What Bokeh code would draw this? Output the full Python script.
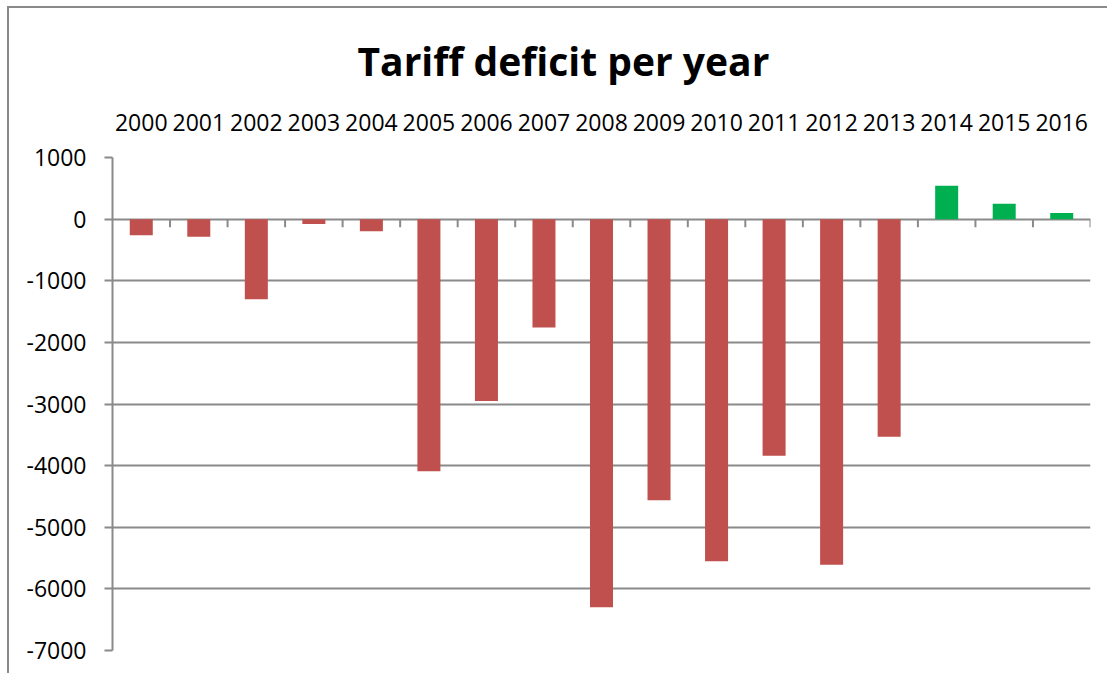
from bokeh.plotting import figure
from bokeh.models import (Range1d, LinearAxis, FixedTicker, ColumnDataSource, Title)
from bokeh.embed import file_html
from bokeh.resources import INLINE

years = ["2000", "2001", "2002", "2003", "2004", "2005", "2006", "2007", "2008",
         "2009", "2010", "2011", "2012", "2013", "2014", "2015", "2016"]
deficit = [-260, -285, -1300, -80, -195, -4090, -2950, -1760, -6300,
           -4560, -5550, -3840, -5610, -3530, 540, 250, 100]
y_ticks = [-7000, -6000, -5000, -4000, -3000, -2000, -1000, 0, 1000]

RED = "#C0504D"
GREEN = "#00B050"
GRAY = "#8a8a8a"
FONT = "Open Sans"

n = len(years)
xs = [i + 0.5 for i in range(n)]
colors = [GREEN if v > 0 else RED for v in deficit]

W, H = 1100, 667
left, right, top, bottom = 103, 19, 149, 25
y_min, y_max = y_ticks[0], y_ticks[-1]

p = figure(width=W, height=H, output_backend="svg", toolbar_location=None,
           x_range=Range1d(0, n), y_range=Range1d(y_min, y_max),
           min_border_left=left, min_border_right=right,
           min_border_top=top, min_border_bottom=bottom,
           x_axis_location=None, y_axis_location="left")
p.outline_line_color = None
p.background_fill_color = "white"
p.border_fill_color = "white"
p.styles = {"border-left": f"2px solid {GRAY}", "border-top": f"2px solid {GRAY}",
            "margin-left": "7px", "margin-top": "6px"}

# top category labels (nearest to the frame)
xa = LinearAxis(ticker=FixedTicker(ticks=xs),
                major_label_overrides={x: y for x, y in zip(xs, years)})
xa.axis_line_color = None
xa.major_tick_line_color = None
xa.minor_tick_line_color = None
xa.major_tick_out = 0
xa.major_label_text_font = FONT
xa.major_label_text_font_size = "23px"
xa.major_label_text_color = "black"
xa.major_label_standoff = 27
p.add_layout(xa, "above")

# title (outermost)
t = Title(text="Tariff deficit per year", align="left", text_font=FONT,
          text_font_size="39px", text_font_style="bold", text_color="black",
          standoff=47, offset=245)
p.add_layout(t, "above")

# y axis
ya = p.yaxis[0]
ya.ticker = FixedTicker(ticks=y_ticks)
ya.major_label_overrides = {v: str(v) for v in y_ticks}
ya.axis_line_color = GRAY
ya.axis_line_width = 2
ya.major_tick_line_color = GRAY
ya.major_tick_line_width = 2
ya.major_tick_out = 8
ya.major_tick_in = 0
ya.minor_tick_line_color = None
ya.major_label_text_font = FONT
ya.major_label_text_font_size = "23px"
ya.major_label_text_color = "black"
ya.major_label_standoff = 18

p.xgrid.grid_line_color = None
p.ygrid.ticker = FixedTicker(ticks=y_ticks)
p.ygrid.grid_line_color = GRAY
p.ygrid.grid_line_width = 2

src = ColumnDataSource(dict(x=xs, top=deficit, color=colors))
p.vbar(x="x", top="top", bottom=0, width=0.4, fill_color="color",
       line_color=None, source=src)

# category boundary ticks on the zero line, pointing down
frame_h = H - top - bottom
tick_len = 8 * (y_max - y_min) / frame_h
bx = list(range(1, n + 1))
p.segment(x0=bx, y0=[0] * len(bx), x1=bx, y1=[-tick_len] * len(bx),
          line_color=GRAY, line_width=2)

open("out.html", "w").write(file_html(p, INLINE))
